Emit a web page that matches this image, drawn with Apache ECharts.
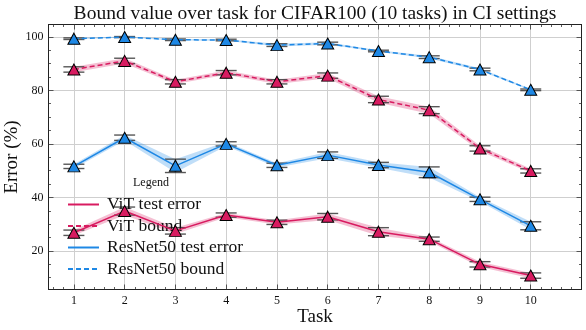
<!DOCTYPE html>
<html>
<head>
<meta charset="utf-8">
<script src="https://cdn.jsdelivr.net/npm/echarts@6/dist/echarts.min.js"></script>
<style>html,body{margin:0;padding:0;background:#fff}#chart{width:586px;height:330px}</style>
</head>
<body>
<div id="chart"></div>
<script>
const tasks = [1, 2, 3, 4, 5, 6, 7, 8, 9, 10]
const vitTest = [26.8, 34.9, 27.5, 33.4, 30.7, 32.8, 27.2, 24.4, 15.0, 10.8]
const vitTestStd = [1.0, 1.5, 1.2, 0.8, 0.8, 1.2, 1.5, 0.8, 1.0, 1.0]
const vitBound = [87.8, 91.0, 83.2, 86.6, 83.2, 85.5, 76.6, 72.6, 58.3, 49.9]
const vitBoundStd = [1.0, 1.0, 0.8, 0.8, 0.8, 1.0, 1.2, 1.3, 1.0, 0.8]
const resTest = [51.6, 62.3, 51.8, 60.0, 52.0, 55.8, 52.1, 49.4, 39.3, 29.4]
const resTestStd = [0.8, 1.0, 2.5, 0.8, 0.8, 1.2, 1.0, 2.0, 0.8, 1.5]
const resBound = [99.3, 99.9, 98.9, 98.8, 96.9, 97.5, 94.7, 92.4, 87.8, 80.2]
const resBoundStd = [0.3, 0.2, 0.3, 0.3, 0.5, 0.5, 0.3, 0.5, 0.5, 0.3]
const xTicks = [1, 2, 3, 4, 5, 6, 7, 8, 9, 10]
const yTicks = [20, 40, 60, 80, 100]

const RED = '#D81B60'
const BLUE = '#1E88E5'
const SERIF = "'Liberation Serif', 'DejaVu Serif', serif"
const X_MIN = 0.5, X_MAX = 11, Y_MIN = 5.6, Y_MAX = 104.6

// minor tick positions (matplotlib auto-minor style)
const xMinor = []
for (let v = 6; v <= 108; v += 2) if (v % 10) xMinor.push(v / 10)
const yMinor = []
for (let v = 10; v <= 100; v += 5) if (v % 20) yMinor.push(v)

const chart = echarts.init(document.getElementById('chart'), null, { renderer: 'canvas' })

function xAxis(pos, ticks, len, main) {
  return {
    type: 'value', position: pos, min: X_MIN, max: X_MAX,
    axisLine: { show: main, onZero: false, lineStyle: { color: '#222', width: 1 } },
    axisTick: { show: true, inside: true, length: len, customValues: ticks, lineStyle: { color: '#333', width: 0.8 } },
    axisLabel: { show: main && pos === 'bottom', customValues: ticks, color: '#111', fontFamily: SERIF, fontSize: 12, margin: 5 },
    splitLine: { show: main && pos === 'bottom', lineStyle: { color: '#cfcfcf', width: 1 } },
    name: main && pos === 'bottom' ? 'Task' : '',
    nameLocation: 'middle', nameGap: 18, nameMoveOverlap: false,
    nameTextStyle: { color: '#111', fontFamily: SERIF, fontSize: 19 },
  }
}
function yAxis(pos, ticks, len, main) {
  return {
    type: 'value', position: pos, min: Y_MIN, max: Y_MAX,
    axisLine: { show: main, onZero: false, lineStyle: { color: '#222', width: 1 } },
    axisTick: { show: true, inside: true, length: len, customValues: ticks, lineStyle: { color: '#333', width: 0.8 } },
    axisLabel: { show: main && pos === 'left', customValues: ticks, color: '#111', fontFamily: SERIF, fontSize: 12, margin: 5 },
    splitLine: { show: main && pos === 'left', lineStyle: { color: '#cfcfcf', width: 1 } },
    name: main && pos === 'left' ? 'Error (%)' : '',
    nameLocation: 'middle', nameGap: 27, nameMoveOverlap: false,
    nameTextStyle: { color: '#111', fontFamily: SERIF, fontSize: 19 },
  }
}

function band(mean, std, color) {
  const data = tasks.map((t, i) => [t, mean[i] - std[i], mean[i] + std[i]])
  return {
    type: 'custom', z: 1, silent: true, data,
    renderItem(params, api) {
      if (params.dataIndex !== 0) return
      const lo = data.map(d => api.coord([d[0], d[1]]))
      const hi = data.map(d => api.coord([d[0], d[2]])).reverse()
      return { type: 'polygon', shape: { points: lo.concat(hi) }, style: { fill: color, opacity: 0.28 } }
    },
  }
}

function errBars(mean, std) {
  return {
    type: 'custom', z: 3, silent: true,
    data: tasks.map((t, i) => [t, mean[i] - std[i], mean[i] + std[i]]),
    renderItem(params, api) {
      const lo = api.coord([api.value(0), api.value(1)])
      const hi = api.coord([api.value(0), api.value(2)])
      const w = 10.5
      const st = { stroke: '#3a3a3a', lineWidth: 1.4, opacity: 0.85 }
      return {
        type: 'group', children: [
          { type: 'line', shape: { x1: lo[0], y1: lo[1], x2: hi[0], y2: hi[1] }, style: st },
          { type: 'line', shape: { x1: lo[0] - w, y1: lo[1], x2: lo[0] + w, y2: lo[1] }, style: st },
          { type: 'line', shape: { x1: hi[0] - w, y1: hi[1], x2: hi[0] + w, y2: hi[1] }, style: st },
        ],
      }
    },
  }
}

function line(mean, color, dashed) {
  return {
    type: 'line', z: 4,
    data: tasks.map((t, i) => [t, mean[i]]),
    symbol: 'triangle', symbolSize: [12, 11],
    itemStyle: { color, borderColor: '#000', borderWidth: 1 },
    lineStyle: { color, width: 1.5, type: dashed ? [5, 3] : 'solid' },
    emphasis: { disabled: true },
  }
}

function legendOnly(name, color, dashed) {
  return {
    type: 'line', name, data: [], symbol: 'none',
    lineStyle: { color, width: 1.5, type: dashed ? [5, 3] : 'solid' },
    itemStyle: { color },
  }
}

chart.setOption({
  animation: false,
  backgroundColor: '#fff',
  title: {
    text: 'Bound value over task for CIFAR100 (10 tasks) in CI settings',
    left: 310, top: -1, textAlign: 'center',
    textStyle: { color: '#111', fontFamily: SERIF, fontSize: 19.5, fontWeight: 'normal' },
  },
  grid: { left: 48.5, right: 4.5, top: 24.5, bottom: 40.5, outerBoundsMode: 'none' },
  xAxis: [xAxis('bottom', xTicks, 5, true), xAxis('bottom', xMinor, 2.5, false), xAxis('top', xTicks, 5, true), xAxis('top', xMinor, 2.5, false)],
  yAxis: [yAxis('left', yTicks, 5, true), yAxis('left', yMinor, 2.5, false), yAxis('right', yTicks, 5, true), yAxis('right', yMinor, 2.5, false)],
  legend: {
    data: ['ViT test error', 'ViT bound', 'ResNet50 test error', 'ResNet50 bound'],
    orient: 'vertical', left: 62, top: 190.5,
    itemWidth: 31, itemHeight: 14, itemGap: 3.5,
    selectedMode: false,
    itemStyle: { opacity: 0 },
    textStyle: { color: '#111', fontFamily: SERIF, fontSize: 17.5, lineHeight: 18, padding: [0, 0, 0, 3] },
  },
  graphic: [{
    type: 'text', left: 133, top: 177,
    style: { text: 'Legend', fill: '#111', font: '12px ' + SERIF },
  }],
  series: [
    band(vitTest, vitTestStd, RED),
    band(vitBound, vitBoundStd, RED),
    band(resTest, resTestStd, BLUE),
    band(resBound, resBoundStd, BLUE),
    errBars(vitTest, vitTestStd),
    errBars(vitBound, vitBoundStd),
    errBars(resTest, resTestStd),
    errBars(resBound, resBoundStd),
    line(vitTest, RED, false),
    line(vitBound, RED, true),
    line(resTest, BLUE, false),
    line(resBound, BLUE, true),
    legendOnly('ViT test error', RED, false),
    legendOnly('ViT bound', RED, true),
    legendOnly('ResNet50 test error', BLUE, false),
    legendOnly('ResNet50 bound', BLUE, true),
  ],
})
</script>
</body>
</html>
